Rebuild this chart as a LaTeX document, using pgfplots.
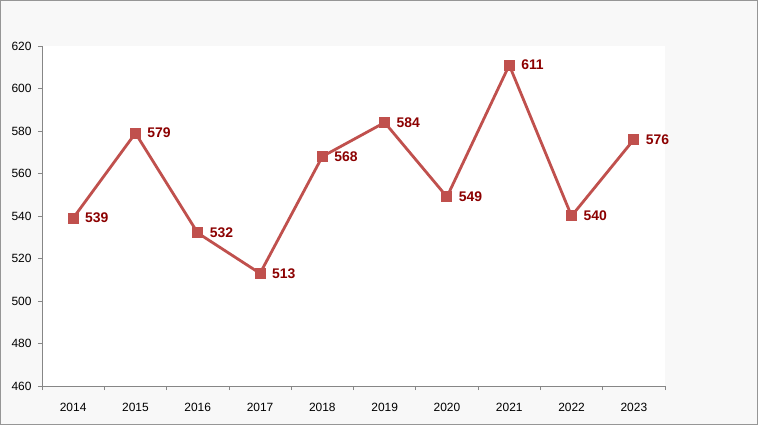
\documentclass[border=0pt]{standalone}
\usepackage{pgfplots}
\pgfplotsset{compat=1.18}
\usepackage{fontspec}
\setmainfont{Liberation Sans}
\definecolor{bgc}{RGB}{248,248,248}
\definecolor{framec}{RGB}{150,150,150}
\definecolor{axc}{RGB}{134,134,134}
\definecolor{linec}{RGB}{192,80,77}
\definecolor{labc}{RGB}{140,0,0}
\begin{document}
\begin{tikzpicture}
\path[fill=bgc,draw=framec,line width=1bp] (0.5bp,0.5bp) rectangle (757.5bp,424.5bp);
\begin{axis}[
  at={(42bp,39bp)}, anchor=south west,
  scale only axis, width=623bp, height=340bp,
  axis background/.style={fill=white},
  xmin=-0.5, xmax=9.5, ymin=460, ymax=620,
  axis x line*=bottom, axis y line*=left,
  axis line style={draw=axc, line width=0.8bp},
  tick style={draw=axc, line width=0.8bp},
  tick align=outside, major tick length=4bp,
  xtick={-0.5,0.5,...,9.5},
  xticklabels={2014,2015,2016,2017,2018,2019,2020,2021,2022,2023,{}},
  xticklabel style={xshift=31.15bp, yshift=-10bp, font=\fontsize{12}{14}\selectfont},
  ytick={460,480,...,620},
  yticklabel style={font=\fontsize{12}{14}\selectfont, xshift=-3bp},
  /pgf/number format/assume math mode=true,
  /pgf/number format/1000 sep={},
  nodes near coords,
  every node near coord/.style={anchor=west, inner sep=0pt, xshift=12bp, text=labc, font=\fontsize{14}{16}\selectfont\bfseries},
  clip=false,
]
\addplot[color=linec, line width=2.8bp, mark=square*, mark size=5bp, mark options={fill=linec, draw=linec, line width=0pt}]
coordinates {(0,539) (1,579) (2,532) (3,513) (4,568) (5,584) (6,549) (7,611) (8,540) (9,576)};
\end{axis}
\end{tikzpicture}
\end{document}
